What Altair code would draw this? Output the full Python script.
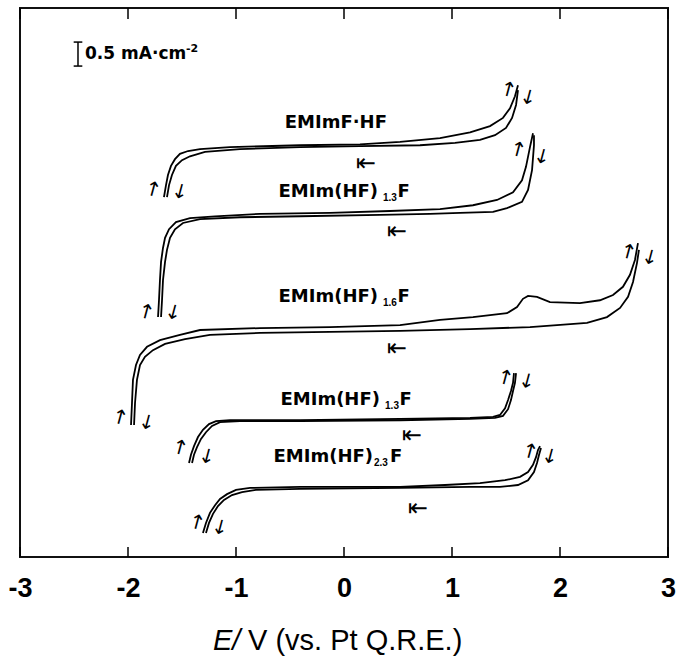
import altair as alt
import pandas as pd

# Potential axis (V vs. Pt Q.R.E.) and stacked current traces (mA cm^-2, offset per salt)
X_TICKS = [-3, -2, -1, 0, 1, 2, 3]
Y_RANGE = [0, 11.44]

# EMImF·HF
C1_A_X = [-1.667, -1.648, -1.630, -1.602, -1.565, -1.519, -1.444, -1.333, -1.056, -0.407, 0.148, 0.519, 0.889, 1.167, 1.352, 1.472, 1.537, 1.583, 1.611]
C1_A_Y = [7.50, 7.75, 7.96, 8.15, 8.29, 8.40, 8.46, 8.50, 8.54, 8.58, 8.60, 8.65, 8.73, 8.85, 8.98, 9.15, 9.35, 9.60, 9.83]
C1_B_X = [-1.639, -1.620, -1.593, -1.556, -1.500, -1.426, -1.287, -0.963, -0.407, 0.148, 0.704, 1.028, 1.259, 1.398, 1.500, 1.556, 1.593, 1.611]
C1_B_Y = [7.50, 7.75, 7.96, 8.15, 8.27, 8.35, 8.44, 8.50, 8.54, 8.56, 8.58, 8.63, 8.69, 8.79, 8.94, 9.15, 9.42, 9.73]

# EMIm(HF)1.3F
C2_A_X = [-1.722, -1.713, -1.704, -1.694, -1.676, -1.657, -1.620, -1.556, -1.426, -1.194, -0.778, -0.130, 0.426, 0.889, 1.194, 1.417, 1.565, 1.648, 1.685, 1.722, 1.750]
C2_A_Y = [5.00, 5.35, 5.77, 6.15, 6.44, 6.65, 6.83, 6.98, 7.06, 7.10, 7.15, 7.17, 7.21, 7.25, 7.33, 7.44, 7.60, 7.85, 8.13, 8.54, 8.83]
C2_B_X = [-1.694, -1.685, -1.676, -1.657, -1.639, -1.611, -1.565, -1.491, -1.333, -0.963, -0.407, 0.333, 0.796, 1.074, 1.380, 1.509, 1.648, 1.704, 1.741, 1.759, 1.759]
C2_B_Y = [5.00, 5.35, 5.77, 6.15, 6.40, 6.65, 6.83, 6.96, 7.04, 7.08, 7.10, 7.13, 7.15, 7.17, 7.19, 7.27, 7.40, 7.65, 8.06, 8.58, 8.79]

# EMIm(HF)1.6F
C3_A_X = [-1.972, -1.963, -1.954, -1.926, -1.889, -1.824, -1.704, -1.519, -1.333, -0.778, -0.130, 0.519, 0.889, 1.194, 1.509, 1.602, 1.657, 1.704, 1.787, 1.907, 2.185, 2.370, 2.491, 2.583, 2.648, 2.694, 2.722]
C3_A_Y = [2.75, 3.21, 3.69, 4.00, 4.21, 4.38, 4.52, 4.63, 4.73, 4.77, 4.79, 4.83, 4.94, 5.00, 5.08, 5.21, 5.38, 5.44, 5.42, 5.31, 5.29, 5.35, 5.46, 5.63, 5.88, 6.19, 6.54]
C3_B_X = [-1.944, -1.935, -1.917, -1.889, -1.843, -1.769, -1.657, -1.472, -1.241, -0.778, -0.130, 0.519, 1.167, 1.722, 1.972, 2.250, 2.435, 2.556, 2.630, 2.676, 2.713, 2.731]
C3_B_Y = [2.75, 3.21, 3.69, 4.00, 4.17, 4.31, 4.44, 4.54, 4.63, 4.67, 4.69, 4.71, 4.75, 4.79, 4.83, 4.88, 5.00, 5.19, 5.42, 5.73, 6.13, 6.40]

# EMIm(HF)1.3F (second sample)
C4_A_X = [-1.435, -1.417, -1.389, -1.352, -1.306, -1.250, -1.185, -1.056, -0.407, 0.519, 1.167, 1.380, 1.444, 1.491, 1.519, 1.546, 1.565, 1.574]
C4_A_Y = [1.96, 2.13, 2.31, 2.50, 2.65, 2.77, 2.83, 2.85, 2.85, 2.88, 2.90, 2.92, 2.96, 3.10, 3.27, 3.46, 3.63, 3.83]
C4_B_X = [-1.407, -1.389, -1.361, -1.324, -1.278, -1.222, -1.148, -0.963, -0.407, 0.519, 1.167, 1.398, 1.472, 1.519, 1.546, 1.565, 1.583, 1.593]
C4_B_Y = [1.96, 2.13, 2.29, 2.46, 2.60, 2.73, 2.81, 2.83, 2.83, 2.85, 2.88, 2.90, 2.94, 3.08, 3.27, 3.46, 3.63, 3.83]

# EMIm(HF)2.3F
C5_A_X = [-1.306, -1.278, -1.241, -1.194, -1.148, -1.083, -1.000, -0.870, -0.407, 0.519, 0.935, 1.259, 1.491, 1.630, 1.704, 1.750, 1.778, 1.796, 1.815]
C5_A_Y = [0.50, 0.71, 0.92, 1.08, 1.21, 1.31, 1.40, 1.44, 1.46, 1.46, 1.50, 1.54, 1.60, 1.67, 1.77, 1.92, 2.08, 2.23, 2.31]
C5_B_X = [-1.278, -1.250, -1.213, -1.167, -1.111, -1.037, -0.944, -0.815, -0.407, 0.519, 1.167, 1.444, 1.611, 1.704, 1.759, 1.787, 1.806, 1.824]
C5_B_Y = [0.50, 0.71, 0.90, 1.06, 1.19, 1.29, 1.35, 1.40, 1.42, 1.44, 1.46, 1.46, 1.50, 1.60, 1.77, 1.96, 2.13, 2.27]

# Curve labels: main text ends at LABEL_X; subscript and trailing "F" follow
LABEL_MAIN = ["EMImF·HF", "EMIm(HF)", "EMIm(HF)", "EMIm(HF)", "EMIm(HF)"]
LABEL_SUB = ["", "1.3", "1.6", "1.3", "2.3"]
LABEL_TAIL = ["", "F", "F", "F", "F"]
LABEL_X = [0.398, 0.315, 0.315, 0.333, 0.269]
LABEL_Y = [9.04, 7.60, 5.42, 3.27, 2.08]
SUB_X = [0.40, 0.361, 0.361, 0.380, 0.278]
SUB_Y = [9.04, 7.48, 5.29, 3.15, 1.96]
TAIL_X = [0.40, 0.495, 0.495, 0.514, 0.426]

# Sweep direction markers near each trace
SWEEP_X = [0.204, 0.491, 0.491, 0.630, 0.685]
SWEEP_Y = [8.19, 6.77, 4.33, 2.52, 1.00]

# Small arrows at the turning points of each scan
UP_X = [-1.769, 1.519, -1.833, 1.611, -2.074, 2.630, -1.519, 1.491, -1.361, 1.722]
UP_Y = [7.65, 9.73, 5.10, 8.48, 2.90, 6.35, 2.27, 3.73, 0.71, 2.19]
DOWN_X = [-1.519, 1.704, -1.583, 1.833, -1.824, 2.833, -1.269, 1.694, -1.148, 1.907]
DOWN_Y = [7.60, 9.56, 5.08, 8.33, 2.79, 6.23, 2.08, 3.65, 0.60, 2.08]

# Current scale bar (0.5 mA cm^-2)
BAR_X = -2.463
BAR_Y0 = 10.23
BAR_LEN = 0.5
BAR_CAP = 0.04

branches = [
    ("c1", "a", C1_A_X, C1_A_Y), ("c1", "b", C1_B_X, C1_B_Y),
    ("c2", "a", C2_A_X, C2_A_Y), ("c2", "b", C2_B_X, C2_B_Y),
    ("c3", "a", C3_A_X, C3_A_Y), ("c3", "b", C3_B_X, C3_B_Y),
    ("c4", "a", C4_A_X, C4_A_Y), ("c4", "b", C4_B_X, C4_B_Y),
    ("c5", "a", C5_A_X, C5_A_Y), ("c5", "b", C5_B_X, C5_B_Y),
]
rows = []
for cname, bname, xs, ys in branches:
    for i, (xv, yv) in enumerate(zip(xs, ys)):
        rows.append({"E": xv, "j": yv, "trace": f"{cname}-{bname}", "idx": i})
traces = pd.DataFrame(rows)

labels = pd.DataFrame({
    "main": LABEL_MAIN, "sub": LABEL_SUB, "tail": LABEL_TAIL,
    "x": LABEL_X, "y": LABEL_Y, "sx": SUB_X, "sy": SUB_Y, "tx": TAIL_X,
})
sweeps = pd.DataFrame({"x": SWEEP_X, "y": SWEEP_Y})
ups = pd.DataFrame({"x": UP_X, "y": UP_Y})
downs = pd.DataFrame({"x": DOWN_X, "y": DOWN_Y})
ticks = pd.DataFrame({"x": X_TICKS})
bar = pd.DataFrame({"x": [BAR_X], "y": [BAR_Y0], "y2": [BAR_Y0 + BAR_LEN]})
caps = pd.DataFrame({"x": [BAR_X - BAR_CAP, BAR_X - BAR_CAP], "x2": [BAR_X + BAR_CAP, BAR_X + BAR_CAP],
                     "y": [BAR_Y0, BAR_Y0 + BAR_LEN]})
bar_text = pd.DataFrame({"x": [BAR_X + 0.065], "y": [BAR_Y0 + BAR_LEN / 2],
                         "t": ["0.5 mA·cm"], "sup": ["-2"]})
axis_title = pd.DataFrame({"a": ["E/"], "b": ["V (vs. Pt Q.R.E.)"]})

xs = alt.Scale(domain=[-3, 3], nice=False, zero=False)
ys = alt.Scale(domain=Y_RANGE, nice=False, zero=False)
X = alt.X("E:Q", scale=xs, axis=alt.Axis(
    values=X_TICKS, ticks=False, domain=False, grid=False, title=None, labelFlush=False,
    labelFont="Liberation Sans", labelFontSize=27, labelFontWeight="bold",
    labelColor="black", labelPadding=18, labelExpr="'' + datum.value"))
Y = alt.Y("j:Q", scale=ys, axis=None)

lines = alt.Chart(traces).mark_line(color="black", strokeWidth=1.8, interpolate="linear").encode(
    x=X, y=Y, detail="trace:N", order="idx:Q")

bottom_ticks = alt.Chart(ticks).mark_rule(color="black", strokeWidth=1.5).encode(
    x=alt.X("x:Q", scale=xs), y=alt.value(549), y2=alt.value(539))
top_ticks = alt.Chart(ticks).mark_rule(color="black", strokeWidth=1.5).encode(
    x=alt.X("x:Q", scale=xs), y=alt.value(0), y2=alt.value(11))

LABEL_FONT = "DejaVu Sans"
main_txt = alt.Chart(labels).mark_text(font=LABEL_FONT, fontSize=18, fontWeight="bold",
                                       align="right", baseline="middle").encode(
    x=alt.X("x:Q", scale=xs), y=alt.Y("y:Q", scale=ys), text="main:N")
sub_txt = alt.Chart(labels).mark_text(font="Liberation Sans", fontSize=10, fontWeight="bold",
                                      align="left", baseline="middle").encode(
    x=alt.X("sx:Q", scale=xs), y=alt.Y("sy:Q", scale=ys), text="sub:N")
tail_txt = alt.Chart(labels).mark_text(font=LABEL_FONT, fontSize=18, fontWeight="bold",
                                       align="left", baseline="middle").encode(
    x=alt.X("tx:Q", scale=xs), y=alt.Y("y:Q", scale=ys), text="tail:N")

sweep_txt = alt.Chart(sweeps).mark_text(font="DejaVu Sans", fontSize=24, baseline="middle").encode(
    x=alt.X("x:Q", scale=xs), y=alt.Y("y:Q", scale=ys), text=alt.value("⇤"))
up_txt = alt.Chart(ups).mark_text(font="DejaVu Sans", fontSize=20, angle=15, baseline="middle").encode(
    x=alt.X("x:Q", scale=xs), y=alt.Y("y:Q", scale=ys), text=alt.value("↑"))
down_txt = alt.Chart(downs).mark_text(font="DejaVu Sans", fontSize=20, angle=15, baseline="middle").encode(
    x=alt.X("x:Q", scale=xs), y=alt.Y("y:Q", scale=ys), text=alt.value("↓"))

bar_rule = alt.Chart(bar).mark_rule(color="black", strokeWidth=1.5).encode(
    x=alt.X("x:Q", scale=xs), y=alt.Y("y:Q", scale=ys), y2="y2:Q")
cap_rule = alt.Chart(caps).mark_rule(color="black", strokeWidth=1.5).encode(
    x=alt.X("x:Q", scale=xs), x2="x2:Q", y=alt.Y("y:Q", scale=ys))
bar_lbl = alt.Chart(bar_text).mark_text(font=LABEL_FONT, fontSize=17, fontWeight="bold",
                                        align="left", baseline="middle").encode(
    x=alt.X("x:Q", scale=xs), y=alt.Y("y:Q", scale=ys), text="t:N")
bar_sup = alt.Chart(bar_text).mark_text(font=LABEL_FONT, fontSize=11, fontWeight="bold",
                                        align="left", baseline="middle", dx=101, dy=-5).encode(
    x=alt.X("x:Q", scale=xs), y=alt.Y("y:Q", scale=ys), text="sup:N")

title_a = alt.Chart(axis_title).mark_text(font="Liberation Sans", fontSize=29, fontStyle="italic",
                                          align="left", baseline="alphabetic").encode(
    x=alt.value(193), y=alt.value(642), text="a:N")
title_b = alt.Chart(axis_title).mark_text(font="Liberation Sans", fontSize=29,
                                          align="left", baseline="alphabetic").encode(
    x=alt.value(228), y=alt.value(642), text="b:N")

chart = alt.layer(
    lines, bottom_ticks, top_ticks, main_txt, sub_txt, tail_txt, sweep_txt, up_txt, down_txt,
    bar_rule, cap_rule, bar_lbl, bar_sup, title_a, title_b,
).properties(
    width=648, height=549,
    autosize=alt.AutoSizeParams(type="none"),
    padding={"left": 20, "top": 8, "right": 10, "bottom": 105},
    background="white",
).configure_view(stroke="#111", strokeWidth=2)

chart.save("out.html", embed_options={"renderer": "svg", "actions": False})
